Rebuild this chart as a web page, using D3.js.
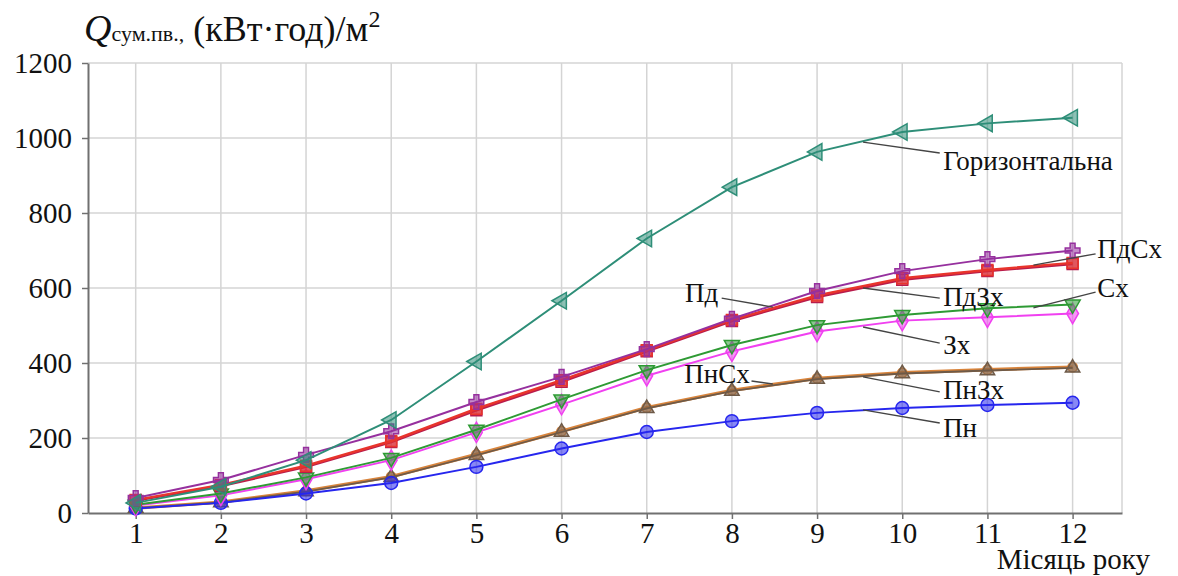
<!DOCTYPE html>
<html>
<head>
<meta charset="utf-8">
<script src="https://cdn.jsdelivr.net/npm/d3@7"></script>
<style>
    body { margin: 0; background: #fff; }
</style>
</head>
<body>
<svg id="chart" width="1178" height="576"></svg>
<script>
const months = [1, 2, 3, 4, 5, 6, 7, 8, 9, 10, 11, 12];
const yTicks = [0, 200, 400, 600, 800, 1000, 1200];

const horiz = [27, 70, 141, 248, 404, 566, 732, 869, 963, 1016, 1039, 1054];
const pdsx = [40, 88, 155, 218, 296, 363, 437, 518, 592, 645, 677, 700];
const pd = [35, 75, 126, 192, 278, 354, 434, 515, 580, 626, 648, 667];
const pdzx = [33, 72, 123, 189, 274, 350, 431, 512, 576, 622, 645, 664];
const sx = [22, 52, 95, 147, 222, 303, 381, 448, 501, 528, 546, 556];
const zx = [20, 47, 90, 141, 215, 289, 366, 431, 484, 513, 522, 532];
const pnsx = [13, 29, 59, 97, 156, 218, 281, 327, 359, 374, 382, 389];
const pnzx = [13, 28, 57, 95, 154, 216, 279, 325, 357, 372, 380, 387];
const pn = [12, 27, 52, 80, 123, 172, 216, 245, 267, 280, 288, 294];

const serif = 'Liberation Serif';

// label: leader from curve -> to text, text position (month, value)
const labels = [
    { text: 'Горизонтальна', from: [9.54, 989], to: [10.44, 960], at: [10.48, 941], anchor: 'start' },
    { text: 'ПдСх', from: [11.54, 661], to: [12.27, 691], at: [12.29, 704], anchor: 'start' },
    { text: 'Сх', from: [11.54, 547], to: [12.27, 589], at: [12.29, 600], anchor: 'start' },
    { text: 'Пд', from: [8.48, 549], to: [7.88, 573], at: [7.84, 587], anchor: 'end' },
    { text: 'ПдЗх', from: [9.54, 600], to: [10.44, 573], at: [10.48, 576], anchor: 'start' },
    { text: 'Зх', from: [9.54, 496], to: [10.44, 453], at: [10.48, 448], anchor: 'start' },
    { text: 'ПнСх', from: [8.48, 344], to: [8.23, 352], at: [8.21, 373], anchor: 'end' },
    { text: 'ПнЗх', from: [9.54, 363], to: [10.44, 323], at: [10.48, 328], anchor: 'start' },
    { text: 'Пн', from: [9.54, 275], to: [10.44, 240], at: [10.48, 229], anchor: 'start' }
];

const series = [
    { values: pnsx, color: '#d8843c', width: 3.5, symbol: d3.symbolCircle, size: 70, rotate: 0 },
    { values: pnzx, color: '#6e5a48', width: 1.8, symbol: d3.symbolTriangle, size: 90, rotate: 0 },
    { values: pn, color: '#2626ee', width: 2, symbol: d3.symbolCircle, size: 130, rotate: 0 },
    { values: zx, color: '#f040f0', width: 2, symbol: d3.symbolDiamond, size: 120, rotate: 0 },
    { values: sx, color: '#2e9a34', width: 2, symbol: d3.symbolTriangle, size: 100, rotate: 180 },
    { values: pdzx, color: '#b81c4c', width: 2.5, symbol: d3.symbolSquare, size: 120, rotate: 0 },
    { values: pd, color: '#e8342c', width: 2.5, symbol: d3.symbolSquare, size: 120, rotate: 0 },
    { values: pdsx, color: '#96309e', width: 2, symbol: d3.symbolCross, size: 120, rotate: 0 },
    { values: horiz, color: '#2e8e78', width: 2, symbol: d3.symbolTriangle, size: 120, rotate: -90 }
];

const chart = d3.select('#chart');

const x = d3.scaleLinear()
    .domain([0.44, 12.58])
    .range([88, 1122]);
const y = d3.scaleLinear()
    .domain([0, 1200])
    .range([513, 63]);

// grid
const grid = chart.append('g').attr('stroke', '#d4d4d4').attr('stroke-width', 1.5);
grid.selectAll('.vgrid')
    .data(months.concat([x.domain()[1]]))
    .enter().append('line')
    .attr('x1', d => x(d)).attr('x2', d => x(d))
    .attr('y1', y(1200)).attr('y2', y(0));
grid.selectAll('.hgrid')
    .data(yTicks.slice(1))
    .enter().append('line')
    .attr('x1', x.range()[0]).attr('x2', x.range()[1])
    .attr('y1', d => y(d)).attr('y2', d => y(d));

// axes
const xAxis = chart.append('g')
    .attr('transform', `translate(0, ${y(0)})`)
    .call(d3.axisBottom(x).tickValues(months).tickSize(6).tickSizeOuter(0).tickPadding(3).tickFormat(d3.format('d')));
const yAxis = chart.append('g')
    .attr('transform', `translate(${x.range()[0]}, 0)`)
    .call(d3.axisLeft(y).tickValues(yTicks).tickSize(6).tickSizeOuter(0).tickPadding(10).tickFormat(d3.format('d')));
[xAxis, yAxis].forEach(a => {
    a.attr('font-family', serif).attr('font-size', 29);
    a.select('.domain').attr('stroke', '#707070').attr('stroke-width', 2);
    a.selectAll('.tick line').attr('stroke', '#707070').attr('stroke-width', 1.5);
    a.selectAll('.tick text').attr('fill', '#111');
});

// leader lines + labels
const lbl = chart.append('g')
    .attr('font-family', serif)
    .attr('font-size', 27);
lbl.selectAll('line')
    .data(labels)
    .enter().append('line')
    .attr('x1', d => x(d.from[0])).attr('y1', d => y(d.from[1]))
    .attr('x2', d => x(d.to[0])).attr('y2', d => y(d.to[1]))
    .attr('stroke', '#444').attr('stroke-width', 1.5);

// series
const line = d3.line()
    .x((_, i) => x(months[i]))
    .y(d => y(d));
const s = chart.selectAll('.series')
    .data(series)
    .enter().append('g')
    .classed('series', true);
s.append('path')
    .attr('d', d => line(d.values))
    .attr('fill', 'none')
    .attr('stroke', d => d.color)
    .attr('stroke-width', d => d.width);
s.each(function (d) {
    d3.select(this).selectAll('path.mark')
        .data(d.values)
        .enter().append('path')
        .classed('mark', true)
        .attr('d', d3.symbol().type(d.symbol).size(d.size))
        .attr('transform', (v, i) => `translate(${x(months[i])}, ${y(v)}) rotate(${d.rotate})`)
        .attr('fill', d.color)
        .attr('fill-opacity', 0.55)
        .attr('stroke', d.color)
        .attr('stroke-width', 1.5);
});

lbl.raise();
lbl.selectAll('text')
    .data(labels)
    .enter().append('text')
    .attr('x', d => x(d.at[0]))
    .attr('y', d => y(d.at[1]))
    .attr('dy', '0.35em')
    .attr('text-anchor', d => d.anchor)
    .attr('fill', '#111')
    .text(d => d.text);

// titles
const title = chart.append('text')
    .attr('x', 84)
    .attr('y', 41)
    .attr('font-family', serif)
    .attr('font-size', 36)
    .attr('fill', '#111');
title.append('tspan').attr('font-style', 'italic').attr('font-size', 38).text('Q');
title.append('tspan').attr('font-size', 22).text('сум.пв.,');
title.append('tspan').text(' (кВт·год)/м');
title.append('tspan').attr('font-size', 24).attr('dy', -14).text('2');

chart.append('text')
    .attr('x', 1150)
    .attr('y', 569)
    .attr('text-anchor', 'end')
    .attr('font-family', serif)
    .attr('font-size', 29)
    .attr('fill', '#111')
    .text('Місяць року');
</script>
</body>
</html>
